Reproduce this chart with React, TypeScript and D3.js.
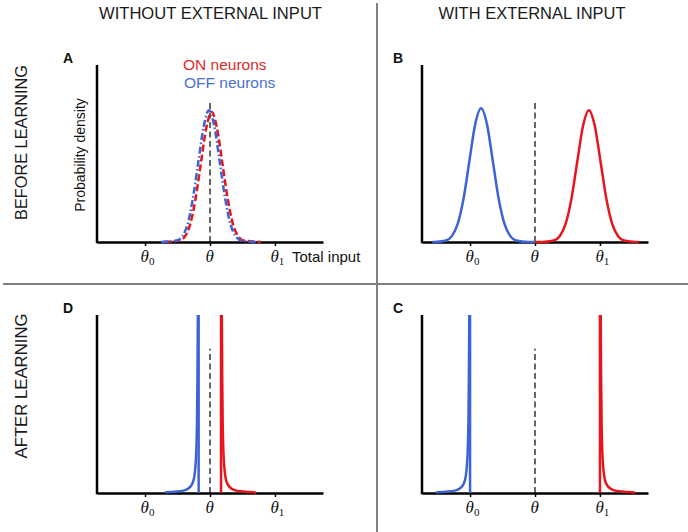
import React, { useEffect, useRef } from "react";
import * as d3 from "d3";

const W = 688;
const H = 532;

// ---- data ----
const tickValues = [-1, 0, 1];
const tickSubs = ["0", "", "1"];
const headers = ["WITHOUT EXTERNAL INPUT", "WITH EXTERNAL INPUT"];
const rowLabels = ["BEFORE LEARNING", "AFTER LEARNING"];
const panelLetters = ["A", "B", "D", "C"];
const legendLabels = ["ON neurons", "OFF neurons"];
const xAxisLabel = "Total input";
const yAxisLabel = "Probability density";

// bell-shaped densities (offset from centre, density relative to peak)
const bumpOffsetA = [-0.74, -0.5, -0.41, -0.33, -0.25, -0.165, -0.08, 0, 0.08, 0.165, 0.25, 0.33, 0.41, 0.5, 0.76];
const bumpOffsetB = [-0.72, -0.54, -0.45, -0.36, -0.27, -0.18, -0.09, 0, 0.09, 0.18, 0.27, 0.36, 0.45, 0.54, 0.72];
const bumpShape = [0, 0.011, 0.044, 0.135, 0.325, 0.607, 0.882, 1, 0.882, 0.607, 0.325, 0.135, 0.044, 0.011, 0];

// panel A: [ON, OFF]
const centerA = [0.025, -0.015];
const peakA = [0.735, 0.745];
// panel B: [ON, OFF]
const centerB = [0.83, -0.83];
const peakB = [0.745, 0.755];
const spanB = [
  [0, 1.6],
  [-1.58, 0],
];

// sharp one-sided densities (distance from cusp, density) for panels D and C
const cuspDist = [0.5, 0.4, 0.3, 0.2, 0.15, 0.1, 0.07, 0.05, 0.035, 0.025, 0.018, 0.012];
const cuspDens = [0.004, 0.006, 0.0095, 0.018, 0.028, 0.05, 0.086, 0.145, 0.245, 0.4, 0.65, 1];
const cuspD = [0.17, -0.175]; // [ON, OFF]
const cuspC = [1.0, -1.0];
const tailEndD = [0.71, -0.69];
const tailEndC = [1.54, -1.52];
const thetaLineTop = [0.8, 0.81]; // top row, bottom row

// ---- styles / layout ----
const RED = "#e8141c";
const BLUE = "#3b63d6";
const GRID = "#808080";
const FONT = "'Liberation Sans', Arial, sans-serif";
const SERIF = "'Liberation Serif', 'Times New Roman', serif";

const panels = [
  { x0: 97, x1: 323, yb: 242, yt: 65, lx: 63, ly: 63 },
  { x0: 422, x1: 648, yb: 242, yt: 65, lx: 393, ly: 63 },
  { x0: 97, x1: 323, yb: 493, yt: 315, lx: 63, ly: 313 },
  { x0: 422, x1: 648, yb: 493, yt: 315, lx: 393, ly: 313 },
];

export default function App() {
  const ref = useRef<SVGSVGElement>(null);

  useEffect(() => {
    const svg = d3.select(ref.current);
    svg.selectAll("*").remove();

    // dividers
    svg.append("line").attr("x1", 377).attr("x2", 377).attr("y1", 3).attr("y2", H)
      .attr("stroke", GRID).attr("stroke-width", 2);
    svg.append("line").attr("x1", 3).attr("x2", W).attr("y1", 284).attr("y2", 284)
      .attr("stroke", GRID).attr("stroke-width", 2);

    // headers
    const headerX = [210.5, 532];
    const headerLen = [223, 187];
    headers.forEach((h, i) => {
      svg.append("text").attr("x", headerX[i]).attr("y", 18.5)
        .attr("text-anchor", "middle").attr("font-family", FONT).attr("font-size", 17)
        .attr("fill", "#1a1a1a").attr("textLength", headerLen[i]).attr("lengthAdjust", "spacingAndGlyphs")
        .text(h);
    });
    const rowY = [142.5, 386];
    const rowLen = [155, 145];
    rowLabels.forEach((r, i) => {
      svg.append("text").attr("transform", `translate(26.5,${rowY[i]}) rotate(-90)`)
        .attr("text-anchor", "middle").attr("font-family", FONT).attr("font-size", 17)
        .attr("fill", "#1a1a1a").attr("textLength", rowLen[i]).attr("lengthAdjust", "spacingAndGlyphs")
        .text(r);
    });

    panels.forEach((p, pi) => {
      const g = svg.append("g");
      const x = d3.scaleLinear().domain([-1.74, 1.74]).range([p.x0, p.x1]);
      const y = d3.scaleLinear().domain([0, 1]).range([p.yb, p.yt]).clamp(true);
      const line = d3.line<[number, number]>().x((d) => x(d[0])).y((d) => y(d[1]));
      const smooth = d3.line<[number, number]>().x((d) => x(d[0])).y((d) => y(d[1])).curve(d3.curveMonotoneX);

      // panel letter
      g.append("text").attr("x", p.lx).attr("y", p.ly).attr("font-family", FONT)
        .attr("font-weight", "bold").attr("font-size", 14).attr("fill", "#111").text(panelLetters[pi]);

      // theta dashed line
      const top = thetaLineTop[pi < 2 ? 0 : 1];
      g.append("path").attr("d", line([[0, 0], [0, top]]))
        .attr("stroke", "#555").attr("stroke-width", 1.8).attr("stroke-dasharray", "6,3.5").attr("fill", "none");

      // axes
      const xa = g.append("g").attr("transform", `translate(0,${p.yb})`)
        .call(d3.axisBottom(x).tickValues(tickValues).tickSize(4).tickSizeOuter(0).tickFormat(() => ""));
      xa.select(".domain").attr("stroke", "#000").attr("stroke-width", 2.5);
      xa.selectAll(".tick line").attr("stroke", "#000").attr("stroke-width", 1.5);
      const ya = g.append("g").attr("transform", `translate(${p.x0},0)`)
        .call(d3.axisLeft(y).tickValues([]).tickSizeOuter(0));
      ya.select(".domain").attr("stroke", "#000").attr("stroke-width", 2.5)
        .attr("d", `M0,${p.yt}V${p.yb + 1.25}`);

      // tick labels
      tickValues.forEach((t, ti) => {
        const tx = g.append("text").attr("x", x(t) - 4.5).attr("y", p.yb + 20)
          .attr("font-family", SERIF).attr("font-size", 17).attr("fill", "#111");
        tx.append("tspan").attr("font-style", "italic").text("θ");
        if (tickSubs[ti]) {
          tx.append("tspan").attr("font-size", 11).attr("dy", 3).text(tickSubs[ti]);
        }
      });

      if (pi === 0) {
        // panel A: overlapping dashed bells
        const pts = (ci: number): [number, number][] =>
          bumpOffsetA.map((o, k) => [centerA[ci] + o, peakA[ci] * bumpShape[k]]);
        g.append("path").attr("d", smooth(pts(0))).attr("fill", "none")
          .attr("stroke", RED).attr("stroke-width", 2.5).attr("stroke-dasharray", "7,3");
        g.append("path").attr("d", smooth(pts(1))).attr("fill", "none")
          .attr("stroke", BLUE).attr("stroke-width", 2.5).attr("stroke-dasharray", "7,2.5,1.5,2.5");

        g.append("text").attr("x", 292).attr("y", 262).attr("font-family", FONT)
          .attr("font-size", 15).attr("fill", "#111").text(xAxisLabel);
        g.append("text").attr("transform", "translate(85,155) rotate(-90)").attr("text-anchor", "middle")
          .attr("font-family", FONT).attr("font-size", 14).attr("fill", "#111").text(yAxisLabel);
        g.append("text").attr("x", 183).attr("y", 70).attr("font-family", FONT)
          .attr("font-size", 15.5).attr("fill", "#e02a2a").text(legendLabels[0]);
        g.append("text").attr("x", 184).attr("y", 87.5).attr("font-family", FONT)
          .attr("font-size", 15.5).attr("fill", "#4a70d0").text(legendLabels[1]);
      } else if (pi === 1) {
        [0, 1].forEach((ci) => {
          const bell: [number, number][] = bumpOffsetB.map((o, k) => [centerB[ci] + o, peakB[ci] * bumpShape[k]]);
          const lo = spanB[ci][0];
          const hi = spanB[ci][1];
          const pts: [number, number][] = [[lo, 0], ...bell.filter((d) => d[0] > lo && d[0] < hi), [hi, 0]];
          g.append("path").attr("d", smooth(pts)).attr("fill", "none")
            .attr("stroke", ci === 0 ? RED : BLUE).attr("stroke-width", 2.5);
        });
      } else {
        const cusps = pi === 2 ? cuspD : cuspC;
        const ends = pi === 2 ? tailEndD : tailEndC;
        [0, 1].forEach((ci) => {
          const c = cusps[ci];
          const col = ci === 0 ? RED : BLUE;
          const dir = ci === 0 ? 1 : -1;
          let pts: [number, number][] = [[ends[ci], 0], ...cuspDist.map((dd, k) => [c + dir * dd, cuspDens[k]] as [number, number])];
          pts.sort((a, b) => a[0] - b[0]);
          g.append("path").attr("d", smooth(pts)).attr("fill", "none")
            .attr("stroke", col).attr("stroke-width", 2.5);
          g.append("path").attr("d", line([[c, 0], [c, 1]])).attr("fill", "none")
            .attr("stroke", col).attr("stroke-width", 2.5);
        });
      }
    });
  }, []);

  return (
    <svg
      ref={ref}
      width={W}
      height={H}
      style={{ position: "absolute", left: 0, top: 0, background: "#fff" }}
    />
  );
}
